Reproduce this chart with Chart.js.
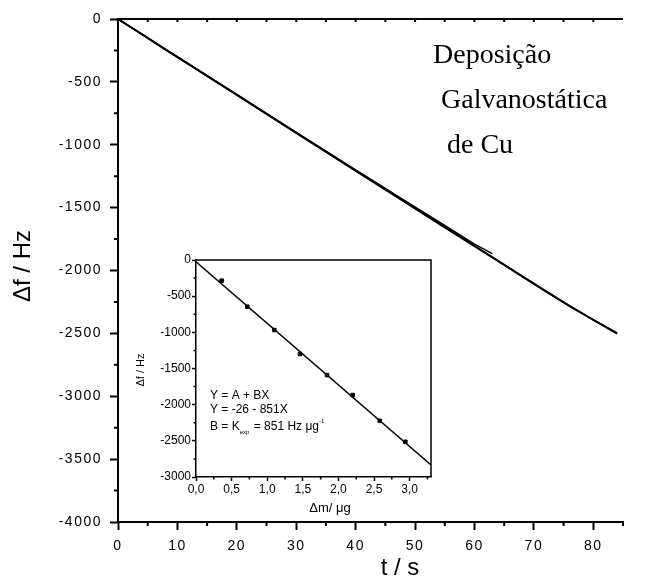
<!DOCTYPE html>
<html>
<head>
<meta charset="utf-8">
<script src="https://cdn.jsdelivr.net/npm/chart.js@4.4.0/dist/chart.umd.min.js"></script>
<style>
body{margin:0;background:#fff}
#wrap{position:relative;width:647px;height:580px;background:#fff}
#main{position:absolute;left:0;top:0}
#inset{position:absolute;left:130px;top:248px}
</style>
</head>
<body>
<div id="wrap">
<canvas id="main" width="647" height="580"></canvas>
<canvas id="inset" width="310" height="270"></canvas>
</div>
<script>
// curvas de frequencia (Hz) vs tempo (s)
const tempo = [0,4,8,12,16,20,24,28,32,36,40,44,48,52,56,60,64,68,72,76,80,84]
const tempoCurto = [0,4,8,12,16,20,24,28,32,36,40,44,48,52,56,60,63]
const df1 = [0,-120,-242,-362,-483,-603,-724,-845,-966,-1086,-1206,-1326,-1446,-1566,-1686,-1806,-1925,-2045,-2165,-2282,-2392,-2500]
const df2 = [0,-118,-239,-359,-480,-600,-721,-842,-963,-1083,-1203,-1323,-1443,-1563,-1683,-1803,-1922,-2042,-2162,-2279,-2390,-2497]
const df3 = [0,-121,-243,-362,-482,-602,-722,-842,-962,-1081,-1200,-1318,-1436,-1554,-1672,-1790,-1866]
const df4 = [0,-123,-245,-365,-486,-606,-727,-848,-969,-1089,-1209,-1329,-1449,-1569,-1689,-1809,-1928,-2048,-2168,-2285,-2395,-2503]

// grafico pequeno: massa (ug) vs frequencia
const massa = [0.36,0.72,1.10,1.46,1.84,2.20,2.58,2.94]
const dfMassa = [-286,-646,-968,-1300,-1591,-1867,-2223,-2513]
const ajusteX = [0,3.3]
const ajusteY = [-26,-2834]

const texto = ["Deposição","Galvanostática","de Cu"]

Chart.defaults.font.family = "'Liberation Sans', Arial, sans-serif"
Chart.defaults.color = '#000'

function pares(xs, ys) {
  return xs.map((x, i) => ({x: x, y: ys[i]}))
}

function linha(xs, ys) {
  return {
    data: pares(xs, ys),
    borderColor: '#000',
    borderWidth: 1.5,
    pointRadius: 0,
    tension: 0
  }
}

const extrasMain = {
  id: 'extrasMain',
  beforeDraw(chart) {
    chart.ctx.letterSpacing = '1.5px'
  },
  beforeDatasetsDraw(chart) {
    const ctx = chart.ctx
    const a = chart.chartArea
    const x = chart.scales.x
    const y = chart.scales.y
    ctx.letterSpacing = '0px'
    ctx.save()
    ctx.strokeStyle = '#000'
    ctx.lineWidth = 2
    ctx.beginPath()
    ctx.moveTo(a.left, a.top)
    ctx.lineTo(a.right, a.top)
    for (let v = 5; v <= 85; v += 10) {
      const px = x.getPixelForValue(v)
      ctx.moveTo(px, a.bottom)
      ctx.lineTo(px, a.bottom + 4)
    }
    for (let v = 5; v <= 80; v += 5) {
      const px = x.getPixelForValue(v)
      ctx.moveTo(px, a.top)
      ctx.lineTo(px, a.top + 3)
    }
    for (let v = -250; v > -4000; v -= 500) {
      const py = y.getPixelForValue(v)
      ctx.moveTo(a.left, py)
      ctx.lineTo(a.left - 4, py)
    }
    ctx.stroke()
    ctx.restore()
  },
  afterDraw(chart) {
    const ctx = chart.ctx
    ctx.save()
    ctx.letterSpacing = '0px'
    ctx.fillStyle = '#000'
    ctx.font = "24px 'Liberation Sans', Arial"
    ctx.textAlign = 'center'
    ctx.textBaseline = 'alphabetic'
    ctx.fillText('t / s', 400, 575)
    ctx.save()
    ctx.translate(30, 266)
    ctx.rotate(-Math.PI / 2)
    ctx.fillText('\u0394f / Hz', 0, 0)
    ctx.restore()
    ctx.textAlign = 'left'
    ctx.font = "28px 'Liberation Serif', 'Times New Roman', serif"
    ctx.fillText(texto[0], 433, 63)
    ctx.fillText(texto[1], 441, 108)
    ctx.fillText(texto[2], 447, 153)
    ctx.restore()
  }
}

new Chart(document.getElementById('main'), {
  type: 'line',
  data: {
    datasets: [linha(tempo, df1), linha(tempo, df2), linha(tempoCurto, df3), linha(tempo, df4)]
  },
  options: {
    responsive: false,
    animation: false,
    layout: {padding: {top: 19, right: 24, left: 0, bottom: 0}},
    plugins: {legend: {display: false}, tooltip: {enabled: false}},
    scales: {
      x: {
        type: 'linear',
        min: 0,
        max: 85,
        afterFit: s => { s.height = 58 },
        grid: {drawOnChartArea: false, drawTicks: true, tickLength: 8, color: '#000', tickWidth: 2},
        border: {display: true, color: '#000', width: 2},
        ticks: {stepSize: 10, includeBounds: false, autoSkip: false, maxRotation: 0, padding: 8, font: {size: 14},
          callback: v => String(v)}
      },
      y: {
        min: -4000,
        max: 0,
        afterFit: s => { s.width = 118 },
        grid: {drawOnChartArea: false, drawTicks: true, tickLength: 8, color: '#000', tickWidth: 2},
        border: {display: true, color: '#000', width: 2},
        ticks: {stepSize: 500, padding: 8, font: {size: 14}, callback: v => String(v)}
      }
    }
  },
  plugins: [extrasMain]
})

const extrasInset = {
  id: 'extrasInset',
  beforeDatasetsDraw(chart) {
    const ctx = chart.ctx
    const a = chart.chartArea
    const x = chart.scales.x
    const y = chart.scales.y
    ctx.save()
    ctx.strokeStyle = '#000'
    ctx.lineWidth = 1.5
    ctx.beginPath()
    ctx.moveTo(a.left, a.top)
    ctx.lineTo(a.right, a.top)
    ctx.lineTo(a.right, a.bottom)
    for (let v = 0.25; v < 3.3; v += 0.5) {
      const px = x.getPixelForValue(v)
      ctx.moveTo(px, a.bottom)
      ctx.lineTo(px, a.bottom + 2.5)
    }
    for (let v = -250; v > -3000; v -= 500) {
      const py = y.getPixelForValue(v)
      ctx.moveTo(a.left, py)
      ctx.lineTo(a.left - 2.5, py)
    }
    ctx.stroke()
    ctx.restore()
  },
  afterDraw(chart) {
    const ctx = chart.ctx
    const ox = 130, oy = 248
    ctx.save()
    ctx.fillStyle = '#000'
    ctx.textBaseline = 'alphabetic'
    ctx.font = "13px 'Liberation Sans', Arial"
    ctx.textAlign = 'center'
    ctx.fillText('\u0394m/ \u03bcg', 330 - ox, 512 - oy)
    ctx.save()
    ctx.translate(144 - ox, 370 - oy)
    ctx.rotate(-Math.PI / 2)
    ctx.font = "11px 'Liberation Sans', Arial"
    ctx.fillText('\u0394f / Hz', 0, 0)
    ctx.restore()
    ctx.textAlign = 'left'
    ctx.font = "12px 'Liberation Sans', Arial"
    const x0 = 210 - ox
    ctx.fillText('Y = A + BX', x0, 399 - oy)
    ctx.fillText('Y = -26 - 851X', x0, 413 - oy)
    let px = x0
    const base = 430 - oy
    ctx.fillText('B = K', px, base)
    px += ctx.measureText('B = K').width
    ctx.font = "6px 'Liberation Sans', Arial"
    ctx.fillText('exp', px, base + 4)
    px += ctx.measureText('exp').width + 1
    ctx.font = "12px 'Liberation Sans', Arial"
    ctx.fillText(' = 851 Hz \u03bcg', px, base)
    px += ctx.measureText(' = 851 Hz \u03bcg').width
    ctx.font = "6px 'Liberation Sans', Arial"
    ctx.fillText('-1', px, base - 7)
    ctx.restore()
  }
}

new Chart(document.getElementById('inset'), {
  type: 'line',
  data: {
    datasets: [
      {
        data: pares(massa, dfMassa),
        showLine: false,
        pointStyle: 'rect',
        pointRadius: 2.5,
        backgroundColor: '#000',
        borderColor: '#000'
      },
      {
        data: pares(ajusteX, ajusteY),
        borderColor: '#000',
        borderWidth: 1.5,
        pointRadius: 0
      }
    ]
  },
  options: {
    responsive: false,
    animation: false,
    layout: {padding: {top: 12, right: 9, left: 0, bottom: 1}},
    plugins: {legend: {display: false}, tooltip: {enabled: false}},
    scales: {
      x: {
        type: 'linear',
        min: 0,
        max: 3.3,
        afterFit: s => { s.height = 40 },
        grid: {drawOnChartArea: false, drawTicks: true, tickLength: 4, color: '#000', tickWidth: 1.5},
        border: {display: true, color: '#000', width: 1.5},
        ticks: {
          stepSize: 0.5,
          includeBounds: false,
          autoSkip: false,
          maxRotation: 0,
          padding: 1,
          font: {size: 12},
          callback: v => v.toFixed(1).replace('.', ',')
        }
      },
      y: {
        min: -3000,
        max: 0,
        afterFit: s => { s.width = 66 },
        grid: {drawOnChartArea: false, drawTicks: true, tickLength: 4, color: '#000', tickWidth: 1.5},
        border: {display: true, color: '#000', width: 1.5},
        ticks: {stepSize: 500, padding: 1, font: {size: 12}, callback: v => String(v)}
      }
    }
  },
  plugins: [extrasInset]
})
</script>
</body>
</html>
